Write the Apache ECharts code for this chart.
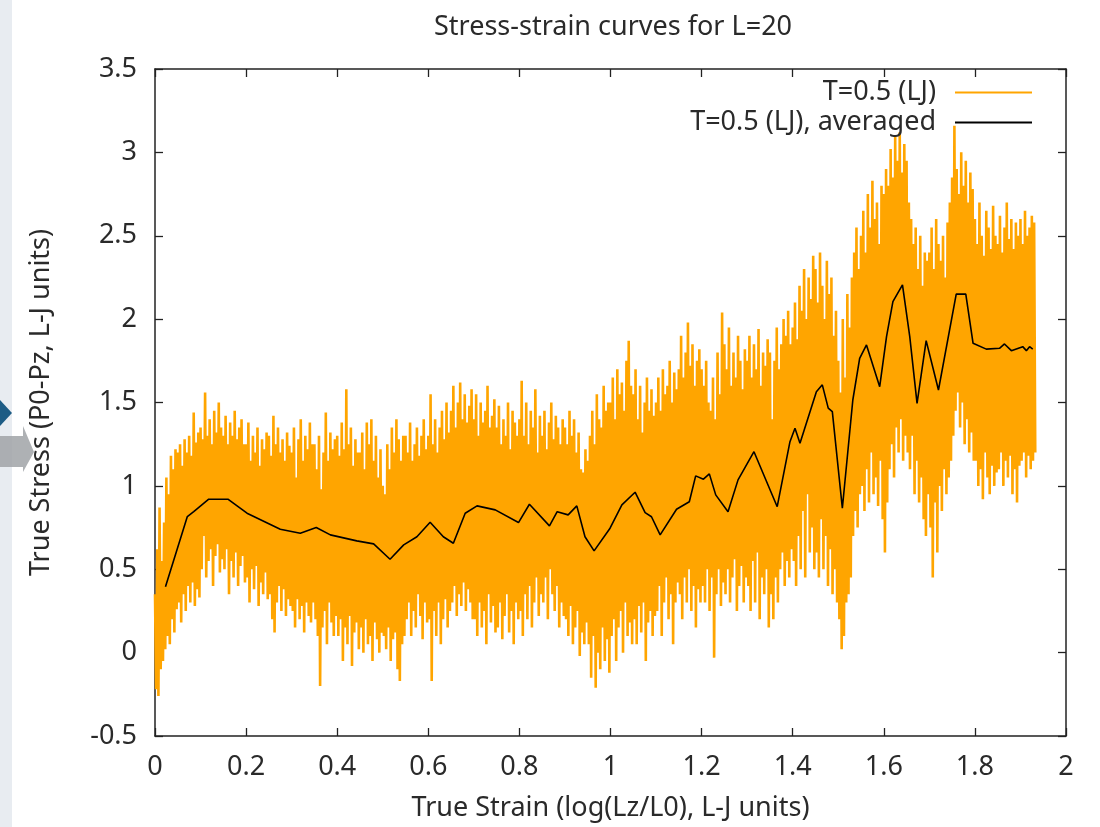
<!DOCTYPE html>
<html>
<head>
<meta charset="utf-8">
<script src="https://cdn.jsdelivr.net/npm/echarts@6/dist/echarts.min.js"></script>
<style>
html,body{margin:0;padding:0;background:#ffffff;}
#chart{width:1100px;height:827px;}
</style>
</head>
<body>
<div id="chart"></div>
<script>
// ---------- texts ----------
const titleText = 'Stress-strain curves for L=20';
const xAxisName = 'True Strain (log(Lz/L0), L-J units)';
const yAxisName = 'True Stress (P0-Pz, L-J units)';
const seriesNames = ['T=0.5 (LJ)', 'T=0.5 (LJ), averaged'];

// ---------- axes ----------
const xMin = 0, xMax = 2, xInterval = 0.2;
const yMin = -0.5, yMax = 3.5, yInterval = 0.5;

// ---------- raw (noisy) stress: spacing of samples in strain ----------
const rawStep = 0.005;
// upper excursions of the raw signal, one per sample
const rawUpper = [
  0.35,0.62,0.87,0.55,0.78,1.05,0.95,1.18,1.1,1.22,
  1.2,1.25,1.12,1.28,1.2,1.3,1.18,1.44,1.26,1.32,
  1.35,1.28,1.56,1.3,1.4,1.25,1.45,1.32,1.5,1.35,
  1.3,1.42,1.25,1.38,1.3,1.45,1.28,1.35,1.4,1.25,
  1.25,1.38,1.15,1.3,1.2,1.35,1.12,1.28,1.22,1.32,
  1.3,1.18,1.42,1.25,1.35,1.2,1.28,1.15,1.32,1.24,
  1.2,1.35,1.05,1.28,1.4,1.15,1.3,1.22,1.38,1.25,
  1.25,1.1,1.3,0.98,1.2,1.44,1.15,1.32,1.22,1.28,
  1.3,1.18,1.38,1.22,1.58,1.25,1.35,1.12,1.28,1.2,
  1.2,1.32,1.1,1.38,1.25,1.4,1.15,1.3,1.05,1.22,
  1.0,0.95,1.25,1.1,1.35,1.2,1.4,1.28,1.15,1.3,
  1.3,1.2,1.38,1.15,1.25,1.35,1.18,1.3,1.4,1.22,
  1.3,1.55,1.25,1.4,1.2,1.35,1.45,1.28,1.5,1.32,
  1.45,1.6,1.35,1.5,1.62,1.4,1.55,1.38,1.48,1.58,
  1.4,1.55,1.3,1.5,1.38,1.45,1.6,1.35,1.42,1.52,
  1.35,1.48,1.25,1.4,1.3,1.5,1.22,1.45,1.38,1.3,
  1.4,1.63,1.3,1.5,1.25,1.45,1.35,1.58,1.2,1.42,
  1.3,1.45,1.22,1.38,1.5,1.28,1.42,1.35,1.25,1.4,
  1.35,1.25,1.45,1.3,1.4,1.2,1.32,1.1,1.08,1.22,
  1.15,1.3,1.45,1.25,1.55,1.4,1.35,1.6,1.45,1.5,
  1.5,1.65,1.4,1.7,1.55,1.62,1.45,1.75,1.87,1.6,
  1.55,1.7,1.4,1.6,1.32,1.5,1.65,1.45,1.58,1.42,
  1.5,1.65,1.45,1.7,1.55,1.6,1.75,1.5,1.68,1.58,
  1.7,1.9,1.65,1.8,1.98,1.72,1.85,1.6,1.75,1.82,
  1.7,1.6,1.75,1.5,1.45,1.65,1.4,1.8,1.55,2.04,
  1.85,1.7,1.95,1.6,1.8,1.65,1.9,1.75,1.58,1.82,
  1.75,1.9,1.65,1.85,1.7,1.94,1.6,1.8,1.72,1.88,
  1.8,1.4,1.75,1.95,1.7,1.85,2.0,1.9,2.05,1.85,
  1.95,2.1,1.88,2.2,2.05,2.3,2.0,2.25,2.12,2.38,
  2.3,2.1,2.4,2.2,2.0,2.35,2.15,2.25,1.9,2.05,
  1.75,1.56,2.0,1.65,2.15,1.95,2.25,2.4,2.55,2.3,
  2.5,2.65,2.4,2.75,2.55,2.83,2.6,2.7,2.45,2.8,
  2.75,2.9,2.8,3.02,2.85,3.1,2.95,3.12,2.88,3.05,
  2.95,2.7,2.6,2.45,2.55,2.3,2.5,2.2,2.4,2.35,
  2.4,2.55,2.3,2.6,2.45,2.35,2.5,2.25,2.58,2.7,
  2.85,3.16,2.9,2.75,3.0,2.8,2.95,2.7,2.88,2.78,
  2.6,2.45,2.7,2.5,2.38,2.65,2.55,2.42,2.68,2.5,
  2.45,2.62,2.4,2.55,2.7,2.48,2.6,2.42,2.58,2.5,
  2.6,2.45,2.65,2.5,2.55,2.62,2.58
];
// lower excursions of the raw signal, one per sample
const rawLower = [
  -0.22,-0.26,-0.1,-0.05,0.02,0.1,0.05,0.2,0.12,0.26,
  0.3,0.18,0.35,0.25,0.4,0.3,0.42,0.28,0.38,0.33,
  0.5,0.7,0.45,0.55,0.62,0.4,0.58,0.65,0.48,0.56,
  0.5,0.62,0.35,0.55,0.45,0.6,0.4,0.52,0.58,0.42,
  0.45,0.3,0.5,0.38,0.52,0.28,0.42,0.35,0.48,0.32,
  0.35,0.2,0.12,0.3,0.4,0.25,0.38,0.22,0.32,0.28,
  0.25,0.15,0.32,0.2,0.28,0.12,0.3,0.22,0.18,0.3,
  0.2,0.1,-0.2,0.15,0.25,0.05,0.3,0.18,0.1,0.22,
  0.1,0.2,-0.05,0.15,0.05,0.22,-0.08,0.12,0.18,0.02,
  0.15,0.0,0.2,0.05,0.1,-0.05,0.18,0.08,0.0,0.12,
  0.1,0.02,0.15,-0.05,0.08,0.12,-0.1,-0.17,0.05,0.1,
  0.2,0.3,0.1,0.25,0.15,0.35,0.22,0.08,0.3,0.18,
  0.2,-0.17,0.25,0.1,0.3,0.05,0.2,0.32,0.15,0.25,
  0.3,0.4,0.22,0.35,0.28,0.42,0.25,0.38,0.3,0.2,
  0.2,0.1,0.3,0.15,0.25,0.05,0.35,0.18,0.28,0.12,
  0.15,0.3,0.08,0.22,0.35,0.12,0.25,0.05,0.3,0.2,
  0.25,0.1,0.35,0.2,0.4,0.15,0.3,0.45,0.22,0.35,
  0.3,0.45,0.2,0.5,0.35,0.25,0.4,0.15,0.3,0.22,
  0.2,0.1,0.28,0.05,0.15,0.25,-0.02,0.12,0.05,0.18,
  0.05,-0.15,0.1,-0.21,0.0,-0.1,0.15,-0.05,0.08,-0.12,
  0.1,0.2,-0.05,0.15,0.25,0.0,0.3,0.1,0.18,0.05,
  0.2,0.05,0.28,0.12,0.3,-0.05,0.18,0.25,0.1,0.22,
  0.25,0.4,0.1,0.3,0.45,0.2,0.35,0.05,0.3,0.42,
  0.35,0.2,0.45,0.3,0.5,0.25,0.4,0.15,0.38,0.3,
  0.4,0.3,0.5,0.25,0.45,-0.03,0.35,0.5,0.28,0.42,
  0.35,0.5,0.3,0.45,0.56,0.25,0.4,0.52,0.3,0.45,
  0.4,0.25,0.55,0.3,0.6,0.2,0.45,0.35,0.5,0.15,
  0.35,0.2,0.45,0.3,0.5,0.6,0.4,0.55,0.45,0.62,
  0.55,0.4,0.7,0.5,0.85,0.45,0.95,0.6,0.75,0.5,
  0.6,0.45,0.8,0.5,0.7,0.4,0.62,0.35,0.5,0.3,
  0.2,0.02,0.1,0.3,0.35,0.45,0.7,0.85,0.75,0.95,
  1.0,0.85,1.1,0.9,1.2,0.95,1.05,0.88,1.15,0.8,
  0.6,0.9,1.1,1.25,1.05,1.35,1.2,1.4,1.15,1.3,
  1.2,1.1,1.3,0.95,1.15,0.9,1.05,0.8,0.7,0.95,
  0.75,0.45,0.9,0.6,1.0,0.85,1.1,0.95,1.05,1.15,
  1.3,1.45,1.56,1.35,1.5,1.25,1.4,1.2,1.32,1.15,
  1.15,1.0,1.1,0.92,1.2,1.05,0.95,1.12,1.0,1.08,
  1.1,1.2,1.0,1.15,1.05,1.18,0.95,1.1,0.9,1.12,
  1.15,1.2,1.05,1.18,1.1,1.15,1.2
];

// ---------- averaged curve ----------
const avgStrain = [
  0.023,0.071,0.085,0.118,0.160,0.202,0.275,0.319,0.354,0.385,
  0.443,0.480,0.516,0.546,0.575,0.604,0.633,0.655,0.681,0.707,
  0.747,0.798,0.822,0.866,0.883,0.907,0.926,0.944,0.964,0.999,
  1.025,1.054,1.076,1.090,1.109,1.145,1.173,1.187,1.204,1.217,
  1.231,1.258,1.280,1.315,1.366,1.394,1.405,1.416,1.452,1.465,
  1.478,1.487,1.509,1.532,1.547,1.562,1.591,1.606,1.620,1.641,
  1.657,1.673,1.693,1.720,1.759,1.780,1.796,1.825,1.854,1.865,
  1.880,1.905,1.913,1.920,1.927
];
const avgStress = [
  0.395,0.816,0.845,0.920,0.920,0.836,0.740,0.716,0.750,0.706,
  0.670,0.652,0.560,0.646,0.695,0.782,0.695,0.656,0.836,0.880,
  0.856,0.780,0.890,0.760,0.845,0.826,0.880,0.695,0.610,0.746,
  0.886,0.962,0.840,0.815,0.706,0.860,0.905,1.060,1.040,1.072,
  0.946,0.845,1.036,1.205,0.875,1.265,1.346,1.256,1.565,1.606,
  1.466,1.445,0.866,1.515,1.765,1.845,1.595,1.895,2.105,2.205,
  1.895,1.495,1.871,1.575,2.150,2.150,1.855,1.820,1.825,1.851,
  1.811,1.835,1.811,1.835,1.820
];

// ---------- build series data ----------
const rawData = [];
for (let i = 0; i < rawUpper.length; i++) {
  rawData.push([i * rawStep, rawUpper[i]]);
  rawData.push([i * rawStep + rawStep / 2, rawLower[i]]);
}
const avgData = avgStrain.map((x, i) => [x, avgStress[i]]);

const FONT = 'Noto Sans';
const TXT = '#2a2a2a';
const FS = 27;
const AX = '#222222';

const chart = echarts.init(document.getElementById('chart'), null, {renderer: 'canvas'});

const baseX = {
  type: 'value', min: xMin, max: xMax, interval: xInterval,
  splitLine: {show: false},
  axisLine: {show: true, onZero: false, lineStyle: {color: AX, width: 1.5}},
  axisTick: {show: true, inside: true, length: 8, lineStyle: {color: AX, width: 1.3}},
};
const baseY = {
  type: 'value', min: yMin, max: yMax, interval: yInterval,
  splitLine: {show: false},
  axisLine: {show: true, onZero: false, lineStyle: {color: AX, width: 1.5}},
  axisTick: {show: true, inside: true, length: 8, lineStyle: {color: AX, width: 1.3}},
};

const legendCommon = {
  orient: 'vertical', align: 'right', icon: 'rect',
  itemWidth: 77, itemHeight: 2, padding: 0, right: 68,
  selectedMode: false,
  textStyle: {fontFamily: FONT, fontSize: FS, color: TXT, padding: [0, 14, 0, 0]}
};

chart.setOption({
  animation: false,
  backgroundColor: '#ffffff',
  textStyle: {fontFamily: FONT},
  title: {
    text: titleText, left: 608, top: 9, textAlign: 'center',
    textStyle: {fontFamily: FONT, fontSize: FS, fontWeight: 'normal', color: TXT}
  },
  grid: {left: 155, right: 34, top: 69, bottom: 91, containLabel: false, outerBoundsMode: 'none'},
  legend: [
    Object.assign({}, legendCommon, {top: 79, data: [seriesNames[0]]}),
    Object.assign({}, legendCommon, {top: 109, data: [seriesNames[1]]})
  ],
  graphic: [
    {type: 'rect', z: -10, shape: {x: 0, y: 0, width: 12, height: 827}, style: {fill: '#e8ecf1'}},
    {type: 'polygon', z: -10, shape: {points: [[0, 400], [12, 413], [0, 426]]}, style: {fill: '#1d5c85'}},
    {type: 'polygon', z: -10, shape: {points: [[0, 436], [23, 436], [23, 426], [34, 452], [23, 472], [23, 467], [0, 467]]}, style: {fill: 'rgba(160,163,167,0.85)'}}
  ],
  xAxis: [
    Object.assign({}, baseX, {
      position: 'bottom', name: xAxisName, nameLocation: 'middle', nameGap: 59,
      nameTextStyle: {fontFamily: FONT, fontSize: FS, color: TXT},
      axisLabel: {show: true, margin: 18, fontFamily: FONT, fontSize: FS, color: TXT}
    }),
    Object.assign({}, baseX, {position: 'top', axisLabel: {show: false}})
  ],
  yAxis: [
    Object.assign({}, baseY, {
      position: 'left', name: yAxisName, nameLocation: 'middle', nameGap: 100,
      nameTextStyle: {fontFamily: FONT, fontSize: FS, color: TXT},
      axisLabel: {show: true, margin: 18, fontFamily: FONT, fontSize: FS, color: TXT}
    }),
    Object.assign({}, baseY, {position: 'right', axisLabel: {show: false}})
  ],
  series: [
    {
      name: seriesNames[0], type: 'line', data: rawData,
      xAxisIndex: 0, yAxisIndex: 0,
      symbol: 'none', showSymbol: false,
      lineStyle: {color: '#ffa500', width: 2.6, join: 'bevel'},
      itemStyle: {color: '#ffa500'},
      z: 2, silent: true
    },
    {
      name: seriesNames[1], type: 'line', data: avgData,
      xAxisIndex: 0, yAxisIndex: 0,
      symbol: 'none', showSymbol: false,
      lineStyle: {color: '#000000', width: 1.6},
      itemStyle: {color: '#000000'},
      z: 3, silent: true
    }
  ]
});
</script>
</body>
</html>
